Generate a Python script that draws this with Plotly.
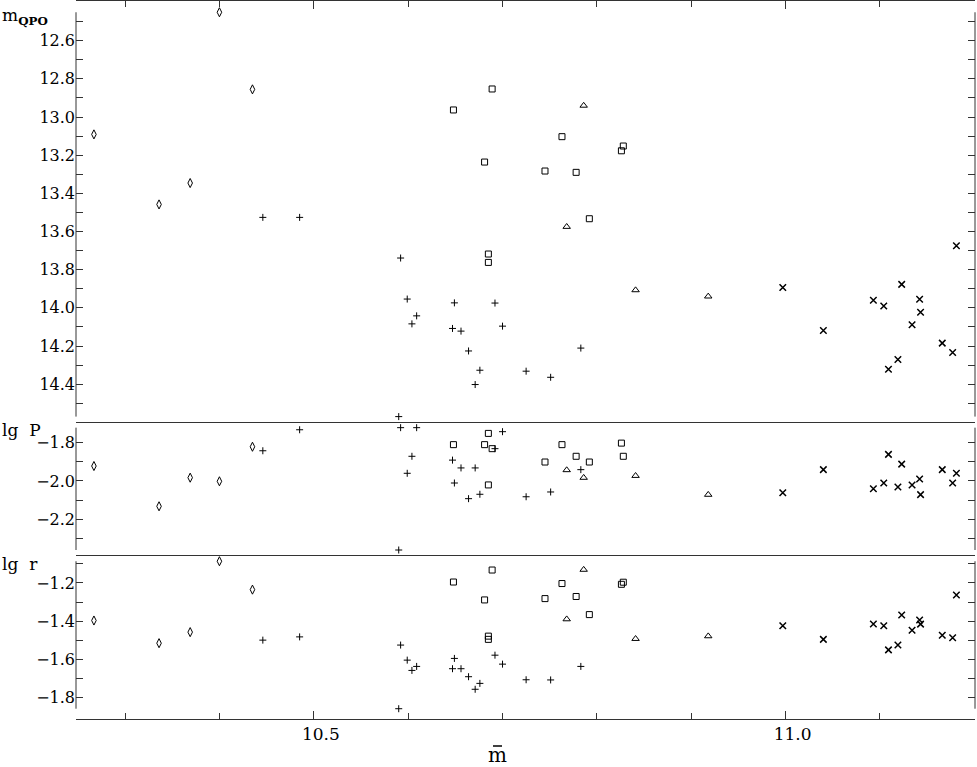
import plotly.graph_objects as go

# ---------------- data ----------------
# "+" objects
plus_m = [10.446, 10.485, 10.590, 10.592, 10.599, 10.604, 10.609, 10.647, 10.649,
          10.656, 10.664, 10.671, 10.676, 10.692, 10.700, 10.725, 10.751, 10.783]
plus_mqpo = [13.526, 13.526, 14.570, 13.739, 13.954, 14.084, 14.042, 14.108, 13.974,
             14.122, 14.226, 14.402, 14.327, 13.975, 14.096, 14.332, 14.364, 14.211]
plus_lgP = [-1.842, -1.732, -2.362, -1.721, -1.960, -1.871, -1.721, -1.891, -2.011,
            -1.932, -2.093, -1.932, -2.070, -1.831, -1.742, -2.083, -2.058, -1.941]
plus_lgr = [-1.500, -1.483, -1.860, -1.526, -1.605, -1.659, -1.638, -1.650, -1.596,
            -1.650, -1.692, -1.758, -1.727, -1.579, -1.626, -1.708, -1.709, -1.638]

# diamond objects
diam_m = [10.267, 10.336, 10.369, 10.400, 10.435]
diam_mqpo = [13.091, 13.458, 13.346, 12.451, 12.855]
diam_lgP = [-1.922, -2.133, -1.983, -2.002, -1.821]
diam_lgr = [-1.397, -1.516, -1.458, -1.086, -1.235]

# square objects
sq_m = [10.648, 10.681, 10.685, 10.685, 10.689, 10.745, 10.763, 10.778, 10.792, 10.826, 10.828]
sq_mqpo = [12.963, 13.236, 13.718, 13.762, 12.853, 13.283, 13.103, 13.290, 13.533, 13.177, 13.152]
sq_lgP = [-1.810, -1.810, -1.751, -2.021, -1.831, -1.901, -1.810, -1.871, -1.901, -1.802, -1.871]
sq_lgr = [-1.195, -1.289, -1.479, -1.496, -1.132, -1.282, -1.203, -1.271, -1.366, -1.207, -1.196]

# triangle objects
tri_m = [10.768, 10.786, 10.841, 10.918]
tri_mqpo = [13.575, 12.940, 13.907, 13.940]
tri_lgP = [-1.943, -1.983, -1.973, -2.072]
tri_lgr = [-1.390, -1.130, -1.493, -1.479]

# "x" objects
x_m = [10.997, 11.040, 11.093, 11.104, 11.109, 11.119, 11.123, 11.134, 11.142,
       11.143, 11.166, 11.177, 11.181]
x_mqpo = [13.893, 14.119, 13.960, 13.990, 14.322, 14.271, 13.877, 14.089, 13.955,
          14.023, 14.185, 14.234, 13.675]
x_lgP = [-2.062, -1.941, -2.041, -2.011, -1.861, -2.032, -1.912, -2.021, -1.990,
         -2.072, -1.941, -2.011, -1.960]
x_lgr = [-1.425, -1.496, -1.415, -1.425, -1.551, -1.526, -1.368, -1.448, -1.394,
         -1.416, -1.474, -1.488, -1.263]

# tick labels
x_major = [10.5, 11.0]
x_major_text = ["10.5", "11.0"]
x_minor = [10.3, 10.4, 10.6, 10.7, 10.8, 10.9, 11.1]

top_major = [12.6, 12.8, 13.0, 13.2, 13.4, 13.6, 13.8, 14.0, 14.2, 14.4]
top_text = ["12.6", "12.8", "13.0", "13.2", "13.4", "13.6", "13.8", "14.0", "14.2", "14.4"]
top_minor = [12.5, 12.7, 12.9, 13.1, 13.3, 13.5, 13.7, 13.9, 14.1, 14.3, 14.5]
mid_major = [-1.8, -2.0, -2.2]
mid_text = ["\u22121.8", "\u22122.0", "\u22122.2"]
mid_minor = [-1.9, -2.1, -2.3]
bot_major = [-1.2, -1.4, -1.6, -1.8]
bot_text = ["\u22121.2", "\u22121.4", "\u22121.6", "\u22121.8"]
bot_minor = [-1.1, -1.3, -1.5, -1.7]

# ---------------- figure ----------------
FONT = "DejaVu Serif"
INK = "black"
LINE = "#333333"

series = [
    (plus_m, plus_mqpo, plus_lgP, plus_lgr, dict(symbol="cross-thin", size=5, line=dict(width=1, color=INK), color=INK)),
    (diam_m, diam_mqpo, diam_lgP, diam_lgr, dict(symbol="diamond-tall-open", size=6.5, line=dict(width=1, color=INK), color=INK)),
    (sq_m, sq_mqpo, sq_lgP, sq_lgr, dict(symbol="square-open", size=6, line=dict(width=1, color=INK), color=INK)),
    (tri_m, tri_mqpo, tri_lgP, tri_lgr, dict(symbol="triangle-up-open", size=6.5, line=dict(width=1, color=INK), color=INK)),
    (x_m, x_mqpo, x_lgP, x_lgr, dict(symbol="x-thin", size=6.5, line=dict(width=1.5, color=INK), color=INK)),
]

fig = go.Figure()
panels = [("x3", "y3", 1), ("x2", "y2", 2), ("x", "y", 3)]
for s in series:
    xm = s[0]
    for xa, ya, idx in panels:
        fig.add_trace(go.Scatter(x=xm, y=s[idx], mode="markers", marker=s[4],
                                 xaxis=xa, yaxis=ya, hoverinfo="skip"))

XR = [10.248, 11.2007]
b1 = 0.2274
b2 = 0.4132

common_x = dict(range=XR, showgrid=False, zeroline=False, showline=True,
                linecolor=LINE, linewidth=1, mirror=True)


def yaxis_cfg(major, text, minor):
    return dict(showgrid=False, zeroline=False, showline=False,
                ticks="inside", ticklen=7, tickcolor=LINE, tickwidth=1,
                mirror="ticks", tickmode="array", tickvals=major, ticktext=text,
                minor=dict(tickmode="array", tickvals=minor, ticks="inside",
                           ticklen=7, tickcolor=LINE, tickwidth=1, showgrid=False),
                tickfont=dict(family=FONT, size=16, color=INK))


fig.update_layout(
    width=977, height=767,
    margin=dict(l=76, r=2, t=1, b=48),
    plot_bgcolor="white", paper_bgcolor="white",
    showlegend=False,
    xaxis=dict(**common_x, anchor="y", domain=[0, 1], side="bottom",
               ticks="inside", ticklen=8, tickcolor=LINE, tickwidth=1,
               tickmode="array", tickvals=x_major, ticktext=x_major_text,
               minor=dict(tickmode="array", tickvals=x_minor, ticks="inside", ticklen=6, tickcolor=LINE),
               tickfont=dict(family=FONT, size=17, color=INK), ticklabelshift=7),
    xaxis2=dict(range=XR, showgrid=False, zeroline=False, showline=False,
                anchor="y2", matches="x", ticks="", showticklabels=False),
    xaxis3=dict(**common_x, anchor="y3", matches="x", side="top",
                ticks="inside", ticklen=8, tickcolor=LINE, tickwidth=1,
                tickmode="array", tickvals=x_major, ticktext=x_major_text, showticklabels=False,
                minor=dict(tickmode="array", tickvals=x_minor, ticks="inside", ticklen=6, tickcolor=LINE)),
    yaxis=dict(**yaxis_cfg(bot_major, bot_text, bot_minor), anchor="x", domain=[0, b1],
               range=[-1.914, -1.057]),
    yaxis2=dict(**yaxis_cfg(mid_major, mid_text, mid_minor), anchor="x2", domain=[b1, b2],
                range=[-2.392, -1.693]),
    yaxis3=dict(**yaxis_cfg(top_major, top_text, top_minor), anchor="x3", domain=[b2, 1],
                range=[14.6, 12.392]),
)

# vertical axis lines spanning each panel's data extent
for ya, xr, vals in [("y3", "x3 domain", plus_mqpo + diam_mqpo + sq_mqpo + tri_mqpo + x_mqpo),
                     ("y2", "x2 domain", plus_lgP + diam_lgP + sq_lgP + tri_lgP + x_lgP),
                     ("y", "x domain", plus_lgr + diam_lgr + sq_lgr + tri_lgr + x_lgr)]:
    for xv in (0, 1):
        fig.add_shape(type="line", xref=xr, yref=ya, x0=xv, x1=xv,
                      y0=min(vals), y1=max(vals), line=dict(color=LINE, width=1))

PW, PH = 899.0, 718.0


def px_x(p):
    return (p - 76) / PW


def px_y(p):
    return (719 - p) / PH


ann_font = dict(family=FONT, size=17, color=INK)
fig.add_annotation(text="m<sub><b>QPO</b></sub>", xref="paper", yref="paper",
                   x=px_x(0), y=px_y(16), xanchor="left", yanchor="middle",
                   showarrow=False, font=ann_font)
fig.add_annotation(text="lg\u00a0\u00a0P", xref="paper", yref="paper",
                   x=px_x(0), y=px_y(430), xanchor="left", yanchor="middle",
                   showarrow=False, font=ann_font)
fig.add_annotation(text="lg\u00a0\u00a0r", xref="paper", yref="paper",
                   x=px_x(0), y=px_y(564), xanchor="left", yanchor="middle",
                   showarrow=False, font=ann_font)
fig.add_annotation(text="m", xref="paper", yref="paper",
                   x=px_x(497), y=px_y(755), xanchor="center", yanchor="middle",
                   showarrow=False, font=dict(family=FONT, size=20, color=INK))
fig.add_shape(type="line", xref="paper", yref="paper",
              x0=px_x(493), x1=px_x(502), y0=px_y(746), y1=px_y(746),
              line=dict(color=INK, width=1.5))

fig.write_html("out.html", config={"displayModeBar": False},
               post_script="document.body.style.margin='0px';")
